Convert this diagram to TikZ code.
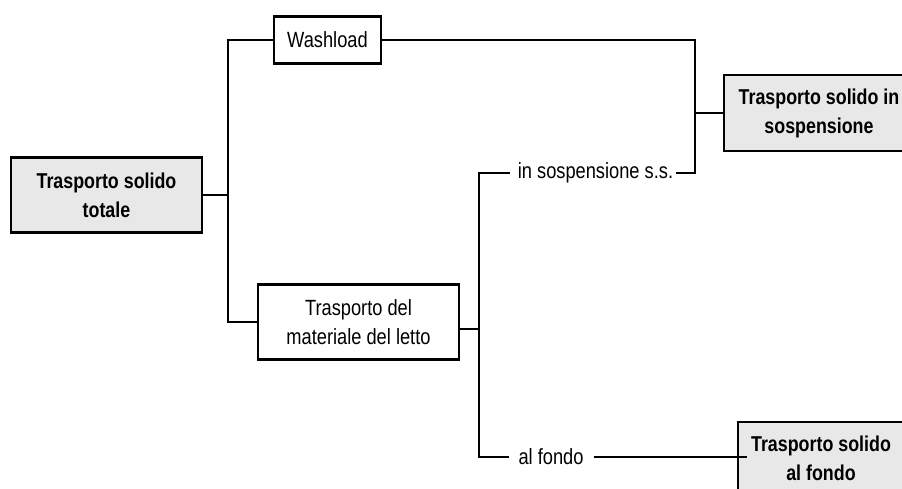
\documentclass[tikz,border=0pt]{standalone}
\usepackage{fontspec}
\setmainfont{Liberation Sans}[FakeStretch=0.83]
\begin{document}
\begin{tikzpicture}[x=1pt,y=-1pt,
  every node/.style={font=\fontsize{22}{29}\selectfont, text=black},
  conn/.style={line width=2.5pt, line join=miter},
  graybox/.style={draw, line width=2.5pt, fill=black!9, align=center, inner sep=0pt, font=\fontsize{21.5}{29}\selectfont\bfseries},
  whitebox/.style={draw, line width=2.5pt, fill=white, align=center, inner sep=0pt},
  lbl/.style={inner sep=0pt}]
\useasboundingbox (0,0) rectangle (902,489);

% boxes
\node[graybox, minimum width=191pt, minimum height=75pt] (tot) at (106.5,195) {Trasporto solido\\totale};
\node[whitebox, minimum width=107pt, minimum height=47pt] (wash) at (327.5,40) {Washload};
\node[whitebox, minimum width=201pt, minimum height=75pt] (bed) at (358.5,322) {Trasporto del\\materiale del letto};
\node[graybox, minimum width=190pt, minimum height=76pt] (susp) at (819,113) {Trasporto solido in\\sospensione};
\node[graybox, minimum width=166pt, minimum height=72pt] (fondo) at (821,458) {Trasporto solido\\al fondo};

% branch labels
\node[lbl] (ss) at (595.5,173) {in sospensione s.s.};
\node[lbl] (af) at (551,457) {al fondo};

% junction points
\coordinate (j1) at (228,195);
\coordinate (j2) at (479,329);
\coordinate (j3) at (695,113);

% connectors
\draw[conn] (tot.east) -- (j1);
\draw[conn] (wash.west) -| (j1) |- (bed.west);
\draw[conn] ([yshift=-7pt]bed.east) -- (j2);
\draw[conn] ([xshift=-8pt]ss.west) -| (j2) |- ([xshift=-9pt]af.west);
\draw[conn] (wash.east) -| (j3) |- ([xshift=3pt]ss.east);
\draw[conn] (j3) -- (susp.west);
\draw[conn] ([xshift=10pt]af.east) -- ([xshift=10pt]af.east -| fondo.west);
\end{tikzpicture}
\end{document}
